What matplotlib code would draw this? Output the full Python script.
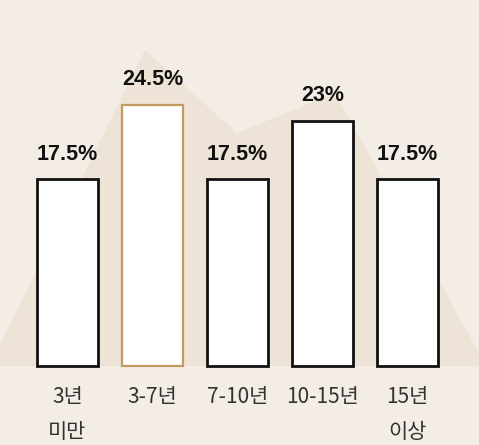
import matplotlib
matplotlib.use("Agg")
import matplotlib.pyplot as plt
from matplotlib.patches import Polygon

# 근속 기간별 비율
categories = ["3년\n미만", "3-7년", "7-10년", "10-15년", "15년\n이상"]
values = [17.5, 24.5, 17.5, 23, 17.5]
value_labels = ["17.5%", "24.5%", "17.5%", "23%", "17.5%"]
highlight = 1

bg = "#f4ede6"
mountain = "#ede3d7"

fig = plt.figure(figsize=(4.79, 4.45), dpi=100, facecolor=bg)
ax = fig.add_axes([0, 0, 1, 1])
ax.set_facecolor(bg)

# 배경 산 모양 (장식용, 축 비율 좌표)
W, H = 479.0, 445.0
pts = [(0, 366), (0, 345), (145, 50), (237, 133), (335, 93), (479, 353), (479, 366)]
ax.add_patch(Polygon([(x / W, 1 - y / H) for x, y in pts], closed=True,
                     transform=ax.transAxes, facecolor=mountain, edgecolor="none", zorder=0))

x = range(len(values))
edges = ["#c29b62" if i == highlight else "#111111" for i in x]
lws = [1.6 if i == highlight else 2.0 for i in x]
bars = ax.bar(x, values, width=0.715, color="white", edgecolor=edges, linewidth=lws, zorder=2)

for b, lab in zip(bars, value_labels):
    ax.annotate(lab, (b.get_x() + b.get_width() / 2, b.get_height()),
                xytext=(0, 10.5), textcoords="offset points", ha="center", va="bottom",
                fontsize=15.5, fontweight="bold", family=["Liberation Sans", "DejaVu Sans"],
                color="#111111", zorder=3)

for i, c in enumerate(categories):
    ax.text(i, -1.9, c, ha="center", va="top", fontsize=15,
            family=["Noto Sans CJK KR", "DejaVu Sans"], color="#333333",
            linespacing=1.75)

ax.set_xlim(-0.794, 4.841)
ax.set_ylim(-7.4, 34.3)
ax.axis("off")

fig.savefig("out.png", dpi=100, facecolor=bg)
